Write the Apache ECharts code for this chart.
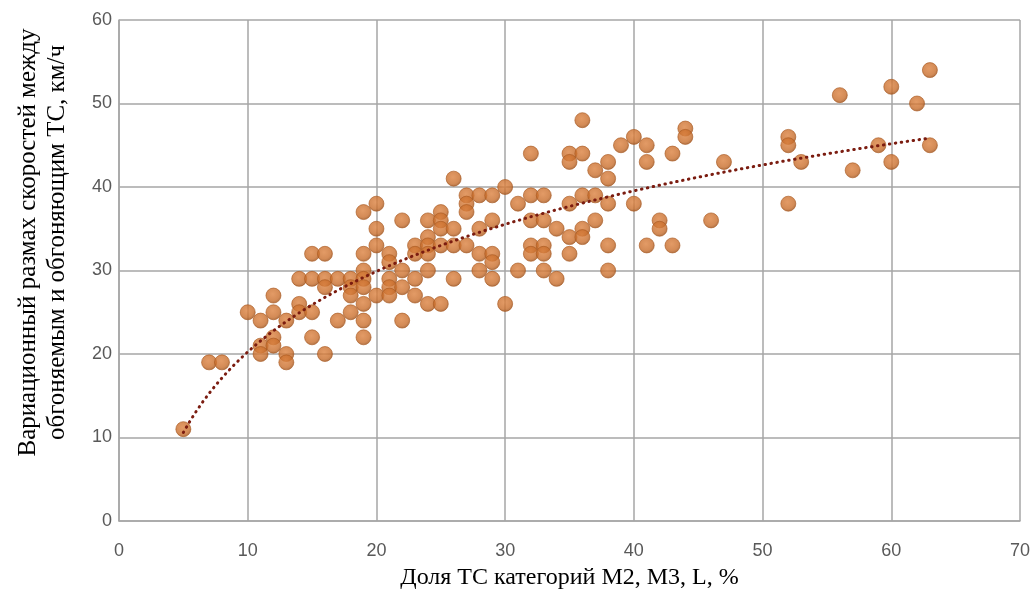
<!DOCTYPE html>
<html>
<head>
<meta charset="utf-8">
<script src="https://cdn.jsdelivr.net/npm/echarts@6/dist/echarts.min.js"></script>
<style>
  html, body { margin: 0; padding: 0; background: #fff; }
  #chart { width: 1035px; height: 589px; }
</style>
</head>
<body>
<div id="chart"></div>
<script>
// доля ТС категорий M2, M3, L (%) и размах скоростей (км/ч)
var shareX = [
  5, 7, 8, 10,
  11, 11, 11, 12, 12, 12, 12, 13, 13, 13,
  14, 14, 14, 15, 15, 15, 15, 16, 16, 16, 16,
  17, 17, 18, 18, 18, 18,
  19, 19, 19, 19, 19, 19, 19, 19,
  20, 20, 20, 20, 21, 21, 21, 21, 21,
  22, 22, 22, 22, 23, 23, 23, 23,
  24, 24, 24, 24, 24, 24, 25, 25, 25, 25, 25,
  26, 26, 26, 26, 27, 27, 27, 27, 28, 28, 28, 28,
  29, 29, 29, 29, 29, 30, 30, 31, 31,
  32, 32, 32, 32, 32, 33, 33, 33, 33, 33, 34, 34,
  35, 35, 35, 35, 35, 36, 36, 36, 36, 36, 37, 37, 37,
  38, 38, 38, 38, 38, 39, 40, 40, 41, 41, 41, 42, 42, 43, 43, 44, 44,
  46, 47, 52, 52, 52, 53, 56, 57, 59, 60, 60, 62, 63, 63
];
var speedRange = [
  11, 19, 19, 25,
  24, 21, 20, 27, 25, 22, 21, 24, 20, 19,
  29, 26, 25, 32, 29, 25, 22, 32, 29, 28, 20,
  29, 24, 29, 28, 27, 25,
  37, 32, 30, 29, 28, 26, 24, 22,
  38, 35, 33, 27, 32, 31, 29, 28, 27,
  36, 30, 28, 24, 33, 32, 29, 27,
  36, 34, 33, 32, 30, 26, 37, 36, 35, 33, 26,
  41, 35, 33, 29, 39, 38, 37, 33, 39, 35, 32, 30,
  39, 36, 32, 31, 29, 40, 26, 38, 30,
  44, 39, 36, 33, 32, 39, 36, 33, 32, 30, 35, 29,
  44, 43, 38, 34, 32, 48, 44, 39, 35, 34, 42, 39, 36,
  43, 41, 38, 33, 30, 45, 46, 38, 45, 43, 33, 36, 35, 44, 33, 47, 46,
  36, 43, 46, 45, 38, 43, 51, 42, 45, 52, 43, 50, 54, 45
];
var xTicks = [0, 10, 20, 30, 40, 50, 60, 70];
var yTicks = [0, 10, 20, 30, 40, 50, 60];

var points = [];
for (var i = 0; i < shareX.length; i++) {
  points.push([shareX[i], speedRange[i]]);
}

// логарифмическая линия тренда (МНК по данным, как в Excel)
var sl = 0, sy = 0, sll = 0, sly = 0, n = points.length;
points.forEach(function (p) {
  var l = Math.log(p[0]);
  sl += l; sy += p[1]; sll += l * l; sly += l * p[1];
});
var a = (n * sly - sl * sy) / (n * sll - sl * sl);
var b = (sy - a * sl) / n;
var xMin = Math.min.apply(null, shareX), xMax = Math.max.apply(null, shareX);
var trend = [];
for (var x = xMin; x <= xMax + 0.001; x += 0.5) {
  trend.push([x, a * Math.log(x) + b]);
}

var myChart = echarts.init(document.getElementById('chart'));
var option = {
  animation: false,
  grid: { left: 119, right: 15, top: 20, bottom: 68, outerBoundsMode: 'none' },
  xAxis: {
    type: 'value',
    min: xTicks[0], max: xTicks[xTicks.length - 1], interval: 10,
    name: 'Доля ТС категорий М2, М3, L, %',
    nameLocation: 'middle',
    nameGap: 45,
    nameTextStyle: { fontFamily: 'Liberation Serif', fontSize: 24, color: '#000' },
    axisLine: { lineStyle: { color: '#a6a6a6', width: 1.5 } },
    axisTick: { show: false },
    axisLabel: { fontFamily: 'Liberation Sans', fontSize: 18, color: '#595959', margin: 21 },
    splitLine: { lineStyle: { color: '#a6a6a6', width: 1.5 } }
  },
  yAxis: {
    type: 'value',
    min: yTicks[0], max: yTicks[yTicks.length - 1], interval: 10,
    name: 'Вариационный размах скоростей между\nобгоняемым и обгоняющим ТС, км/ч',
    nameLocation: 'middle',
    nameGap: 47,
    // сдвиг подписи вверх, как в оригинале
    nameTextStyle: { fontFamily: 'Liberation Serif', fontSize: 25, color: '#000', lineHeight: 29, padding: [0, 0, 0, 56] },
    axisLine: { show: true, lineStyle: { color: '#a6a6a6', width: 1.5 } },
    axisTick: { show: false },
    axisLabel: { fontFamily: 'Liberation Sans', fontSize: 18, color: '#595959', margin: 7 },
    splitLine: { lineStyle: { color: '#a6a6a6', width: 1.5 } }
  },
  series: [
    {
      type: 'scatter',
      data: points,
      symbolSize: 15,
      itemStyle: {
        color: {
          type: 'radial', x: 0.45, y: 0.4, r: 0.6,
          colorStops: [
            { offset: 0, color: '#dc8240' },
            { offset: 0.7, color: '#c96e2c' },
            { offset: 1, color: '#9c5019' }
          ]
        },
        borderColor: '#a9581f',
        borderWidth: 0.8
      },
      z: 2
    },
    {
      type: 'line',
      data: trend,
      showSymbol: false,
      smooth: false,
      lineStyle: { color: '#7b1c10', width: 3, type: [0.5, 5.5], cap: 'round' },
      z: 3
    }
  ]
};
myChart.setOption(option);
</script>
</body>
</html>
